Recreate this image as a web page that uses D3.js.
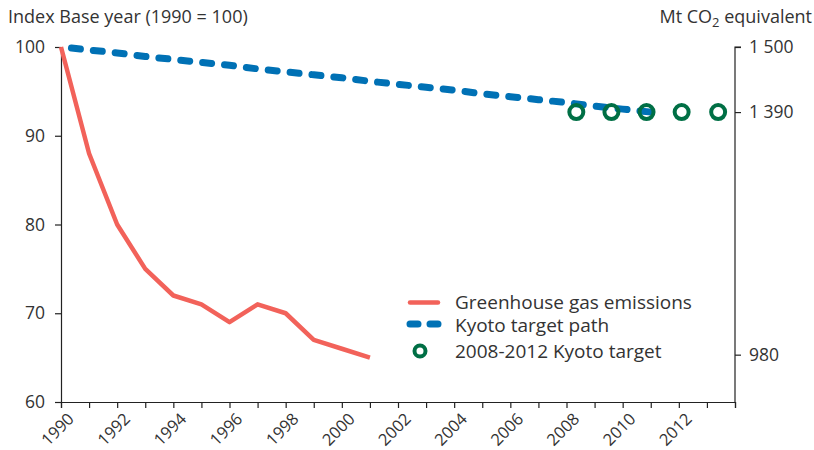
<!DOCTYPE html>
<html>
<head>
<meta charset="utf-8">
<script src="https://cdn.jsdelivr.net/npm/d3@7/dist/d3.min.js"></script>
<style>
  html, body { margin: 0; padding: 0; background: #fff; }
  svg { display: block; font-family: "Open Sans", sans-serif; }
  text { fill: #333; }
</style>
</head>
<body>
<svg id="chart" width="814" height="450"></svg>
<script>
// ---- data ----
const emissionYears = [1990, 1991, 1992, 1993, 1994, 1995, 1996, 1997, 1998, 1999, 2000, 2001];
const emissionIndex = [100, 88, 80, 75, 72, 71, 69, 71, 70, 67, 66, 65];

const pathYears = [1990, 1991, 1992, 1993, 1994, 1995, 1996, 1997, 1998, 1999, 2000,
                   2001, 2002, 2003, 2004, 2005, 2006, 2007, 2008, 2009, 2010, 2011];
const pathMt = [1500, 1495, 1490, 1484, 1479, 1474, 1469, 1463, 1458, 1453, 1448,
                1442, 1437, 1432, 1427, 1421, 1416, 1411, 1406, 1400, 1395, 1390];

const targetPos = [2008.35, 2009.6, 2010.85, 2012.1, 2013.4];
const targetMt = [1390, 1390, 1390, 1390, 1390];

const leftTicks = [60, 70, 80, 90, 100];
const rightTicks = [980, 1390, 1500];
const rightTickLabels = ["980", "1 390", "1 500"];
const xTicks = d3.range(1990, 2015);
const xLabelYears = [1990, 1992, 1994, 1996, 1998, 2000, 2002, 2004, 2006, 2008, 2010, 2012];

const legendLabels = ["Greenhouse gas emissions", "Kyoto target path", "2008-2012 Kyoto target"];

// ---- colours ----
const red = "#f2625a", blue = "#0071b5", green = "#006f45";

const svg = d3.select("#chart");
const x = d3.scaleLinear().domain([1990, 2014]).range([61, 735]);
const yL = d3.scaleLinear().domain([60, 100]).range([402, 47]);
const yR = d3.scaleLinear().domain([900, 1500]).range([402, 47]);

// axes
const gx = svg.append("g").attr("transform", "translate(0,402)")
  .call(d3.axisBottom(x).tickValues(xTicks).tickSize(6).tickFormat(""));
gx.selectAll("text").remove();
gx.selectAll("path,line").attr("stroke", "#222").attr("stroke-width", 1.2);

svg.selectAll(".xl").data(xLabelYears).enter().append("text")
  .attr("class", "xl")
  .attr("transform", d => `translate(${x(d) + 14},${420}) rotate(-45)`)
  .attr("text-anchor", "end")
  .attr("font-size", 16.5)
  .text(d => d);

const gl = svg.append("g").attr("transform", "translate(61,0)")
  .call(d3.axisLeft(yL).tickValues(leftTicks).tickSize(6).tickPadding(10));
gl.selectAll("path,line").attr("stroke", "#222").attr("stroke-width", 1.2);
gl.selectAll("text").attr("font-size", 17.5).attr("font-family", "Open Sans").attr("fill", "#333");

const gr = svg.append("g").attr("transform", "translate(735,0)")
  .call(d3.axisRight(yR).tickValues(rightTicks).tickSize(6).tickPadding(8)
    .tickFormat((d, i) => rightTickLabels[i]));
gr.selectAll("path,line").attr("stroke", "#222").attr("stroke-width", 1.2);
gr.selectAll("text").attr("font-size", 17.5).attr("font-family", "Open Sans").attr("fill", "#333");
gr.select(".domain").attr("d", `M6,47H0V402`);

// titles
svg.append("text").attr("x", 8).attr("y", 23).attr("font-size", 18)
  .text("Index Base year (1990 = 100)");
const rt = svg.append("text").attr("x", 812).attr("y", 23).attr("font-size", 18)
  .attr("text-anchor", "end");
rt.append("tspan").text("Mt CO");
rt.append("tspan").attr("font-size", 13).attr("dy", 4).text("2");
rt.append("tspan").attr("dy", -4).text(" equivalent");

// emissions line
svg.append("path")
  .datum(emissionYears.map((d, i) => [d, emissionIndex[i]]))
  .attr("fill", "none").attr("stroke", red).attr("stroke-width", 4.5)
  .attr("stroke-linejoin", "round")
  .attr("d", d3.line().x(d => x(d[0])).y(d => yL(d[1])));

// kyoto path
svg.append("path")
  .datum(pathYears.map((d, i) => [d, pathMt[i]]))
  .attr("fill", "none").attr("stroke", blue).attr("stroke-width", 7)
  .attr("stroke-linecap", "round")
  .attr("stroke-dasharray", "9,13").attr("stroke-dashoffset", 11.5)
  .attr("d", d3.line().x(d => x(d[0])).y(d => yR(d[1])));

// targets
svg.selectAll(".tg").data(targetPos).enter().append("circle")
  .attr("class", "tg")
  .attr("cx", d => x(d)).attr("cy", (d, i) => yR(targetMt[i]))
  .attr("r", 7).attr("fill", "none").attr("stroke", green).attr("stroke-width", 4);

// legend
const lg = svg.append("g");
lg.append("line").attr("x1", 410).attr("x2", 438).attr("y1", 302.5).attr("y2", 302.5)
  .attr("stroke", red).attr("stroke-width", 4.5).attr("stroke-linecap", "round");
lg.append("line").attr("x1", 410).attr("x2", 438).attr("y1", 324).attr("y2", 324)
  .attr("stroke", blue).attr("stroke-width", 7).attr("stroke-linecap", "round")
  .attr("stroke-dasharray", "8,12");
lg.append("circle").attr("cx", 420).attr("cy", 351).attr("r", 5.5)
  .attr("fill", "none").attr("stroke", green).attr("stroke-width", 4);
lg.selectAll(".lt").data(legendLabels).enter().append("text")
  .attr("class", "lt")
  .attr("x", 455).attr("y", (d, i) => [309, 331.5, 358][i])
  .attr("font-size", 19)
  .text(d => d);
</script>
</body>
</html>
